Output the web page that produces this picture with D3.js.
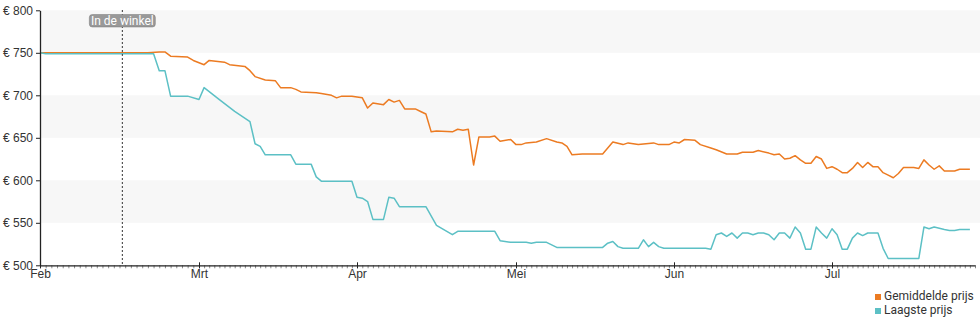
<!DOCTYPE html>
<html>
<head>
<meta charset="utf-8">
<script src="https://cdn.jsdelivr.net/npm/d3@7"></script>
<style>
  body { margin: 0; background: #fff; }
  svg { font-family: Roboto, sans-serif; }
  .axis text { font-size: 12px; fill: #333; }
</style>
</head>
<body>
<svg></svg>
<script>
/* data */
const avgDates = ["02-01","02-20","02-22","02-23","02-24","02-27","02-28","03-02","03-03","03-06","03-07","03-10","03-11","03-12","03-14","03-16","03-17","03-19","03-20","03-21","03-24","03-25","03-27","03-28","03-29","03-31","04-01","04-02","04-03","04-04","04-06","04-07","04-08","04-09","04-10","04-12","04-13","04-14","04-15","04-16","04-19","04-20","04-21","04-22","04-23","04-24","04-26","04-27","04-28","04-30","05-01","05-02","05-03","05-05","05-07","05-09","05-10","05-11","05-12","05-14","05-18","05-19","05-20","05-22","05-23","05-25","05-28","05-29","05-31","06-01","06-02","06-03","06-05","06-06","06-08","06-09","06-11","06-13","06-14","06-16","06-17","06-19","06-20","06-21","06-22","06-23","06-24","06-25","06-26","06-27","06-28","06-29","06-30","07-01","07-02","07-03","07-04","07-05","07-06","07-07","07-08","07-09","07-10","07-11","07-12","07-13","07-14","07-15","07-16","07-17","07-18","07-19","07-20","07-21","07-22","07-23","07-25","07-26","07-28"];
const avgValues = [750,750,751,751,746,745,741,736,741,739,736,734,729,722,718,717,709,709,707,704,703,702,700,697,699,699,698,697,685,691,689,695,692,694,684,684,681,678,657,658,657,660,659,660,618,651,651,652,646,648,642,642,644,645,649,645,644,640,630,631,631,638,645,642,644,642,644,642,642,645,644,648,647,642,638,636,631,631,633,633,635,632,630,631,625,626,629,624,620,620,628,625,614,616,613,609,609,614,621,615,621,616,616,609,606,603,608,615,615,615,614,624,618,613,617,611,611,613,613];

const lowDates = ["02-01","02-02","02-21","02-22","02-23","02-24","02-27","03-01","03-02","03-05","03-08","03-11","03-12","03-13","03-14","03-19","03-20","03-23","03-24","03-25","03-31","04-01","04-02","04-03","04-04","04-06","04-07","04-08","04-09","04-14","04-16","04-19","04-20","04-27","04-28","04-30","05-03","05-04","05-05","05-07","05-09","05-18","05-19","05-20","05-21","05-22","05-25","05-26","05-27","05-28","05-29","05-30","06-07","06-08","06-09","06-10","06-11","06-12","06-13","06-14","06-15","06-16","06-17","06-18","06-19","06-20","06-21","06-22","06-23","06-24","06-25","06-26","06-27","06-28","06-29","06-30","07-01","07-02","07-03","07-04","07-05","07-06","07-07","07-08","07-10","07-11","07-12","07-18","07-19","07-20","07-21","07-23","07-24","07-25","07-26","07-28"];
const lowValues = [750,749,749,729,729,699,699,695,709,695,681,669,643,640,630,630,619,619,604,599,599,580,579,575,554,554,580,579,569,569,547,536,540,540,529,527,527,526,527,527,521,521,526,528,522,520,520,530,522,527,522,520,520,519,536,538,534,538,532,538,538,536,538,538,536,530,538,538,532,545,538,519,519,545,538,532,543,536,519,519,532,538,535,538,538,520,508,508,545,543,545,542,541,541,542,542];

const year = 2019;
const monthStarts = ["02-01","03-01","04-01","05-01","06-01","07-01","07-29"];
const monthLabels = ["Feb","Mrt","Apr","Mei","Jun","Jul"];
const yTicks = [500, 550, 600, 650, 700, 750, 800];
const seriesNames = ["Gemiddelde prijs", "Laagste prijs"];
const colors = ["#ec7b22", "#5cc0c5"];
const shopDate = "02-15";
const shopLabel = "In de winkel";

/* basic setup */
const width = 980, height = 325;
const svg = d3.select("svg").attr("width", width).attr("height", height);

const parse = s => d3.timeParse("%Y-%m-%d")(year + "-" + s);

// months are spaced evenly on the original axis
const x = d3.scaleTime()
    .domain(monthStarts.map(parse))
    .range([40, 199, 357, 516, 674, 832, 975]);

const y = d3.scaleLinear().domain([500, 800]).range([265.3, 10.3]);

/* bands */
svg.append("g").selectAll("rect")
    .data([750, 650, 550])
    .enter().append("rect")
    .attr("x", 40)
    .attr("width", width - 40)
    .attr("y", d => y(d + 50))
    .attr("height", d => y(d) - y(d + 50))
    .attr("fill", "#f7f7f7");

/* lines */
const series = [
    avgDates.map((d, i) => ({date: parse(d), value: avgValues[i]})),
    lowDates.map((d, i) => ({date: parse(d), value: lowValues[i]}))
];
const line = d3.line().x(d => x(d.date)).y(d => y(d.value));

svg.append("g").selectAll("path")
    .data(series)
    .enter().append("path")
    .attr("d", line)
    .attr("fill", "none")
    .attr("stroke", (d, i) => colors[i])
    .attr("stroke-width", 1.5)
    .attr("stroke-linejoin", "round");

/* axes */
const minor = svg.append("g")
    .attr("transform", "translate(0,265.3)")
    .call(d3.axisBottom(x)
        .ticks(d3.timeDay.every(1))
        .tickSize(3)
        .tickFormat(""));
minor.select(".domain").remove();
minor.selectAll("line").attr("stroke", "#888");

const xAxis = svg.append("g")
    .attr("class", "axis")
    .attr("transform", "translate(0,265.3)")
    .call(d3.axisBottom(x)
        .tickValues(monthStarts.slice(0, 6).map(parse))
        .tickFormat((d, i) => monthLabels[i])
        .tickSizeInner(3)
        .tickSizeOuter(0)
        .tickPadding(1));
xAxis.selectAll(".tick line").attr("y1", -3).attr("stroke", "#222");
xAxis.select(".domain").attr("stroke", "#222").attr("stroke-width", 1.3);

const yAxis = svg.append("g")
    .attr("class", "axis")
    .attr("transform", "translate(40,0)")
    .call(d3.axisLeft(y)
        .tickValues(yTicks)
        .tickFormat(d => "€ " + d)
        .tickSizeInner(4)
        .tickSizeOuter(0)
        .tickPadding(3));
yAxis.select(".domain").attr("stroke", "#222").attr("stroke-width", 1.3);
yAxis.selectAll(".tick line").attr("stroke", "#222");

/* shop marker */
const sx = x(parse(shopDate)) + 0.5 * (x(parse("02-16")) - x(parse(shopDate)));
svg.append("line")
    .attr("x1", sx).attr("x2", sx)
    .attr("y1", 10).attr("y2", 265)
    .attr("stroke", "#333")
    .attr("stroke-dasharray", "2,2");
svg.append("rect")
    .attr("x", sx - 33).attr("y", 14.5)
    .attr("width", 66).attr("height", 12.5)
    .attr("rx", 3)
    .attr("fill", "#999")
    .attr("stroke", "#777")
    .attr("stroke-width", 0.5);
svg.append("text")
    .attr("x", sx).attr("y", 24.5)
    .attr("text-anchor", "middle")
    .attr("font-size", 12)
    .attr("fill", "#fff")
    .text(shopLabel);

/* legend */
const legend = svg.append("g").selectAll("g")
    .data(seriesNames)
    .enter().append("g")
    .attr("transform", (d, i) => "translate(875," + (294 + i * 14) + ")");
legend.append("rect")
    .attr("width", 6).attr("height", 6)
    .attr("fill", (d, i) => colors[i]);
legend.append("text")
    .attr("x", 9).attr("y", 6)
    .attr("font-size", 12)
    .attr("fill", "#333")
    .text(d => d);
</script>
</body>
</html>
